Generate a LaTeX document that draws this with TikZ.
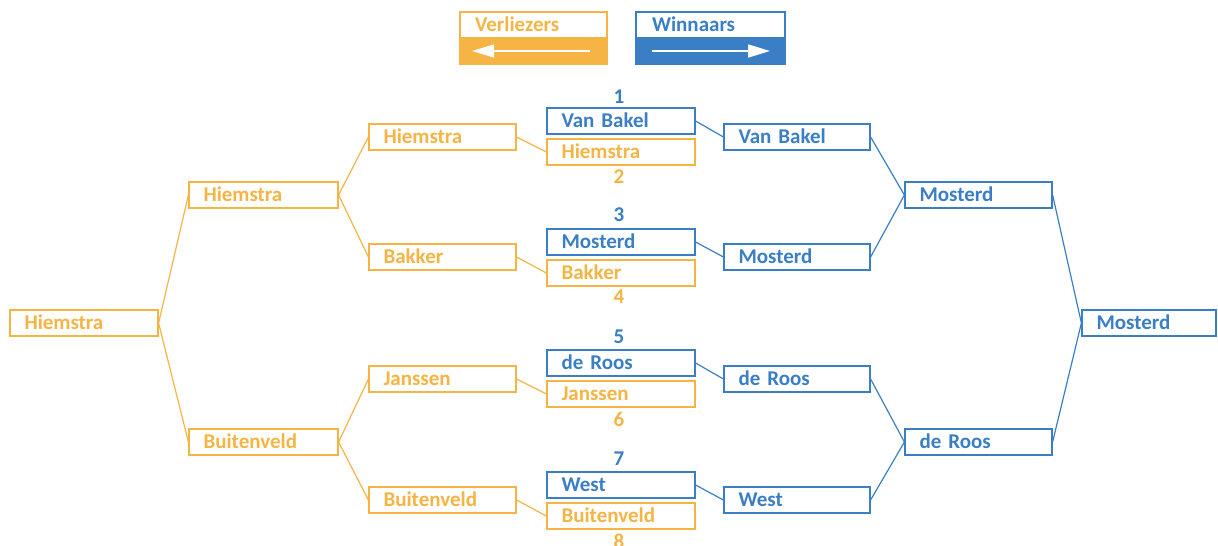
\documentclass[tikz,border=0pt]{standalone}
\usepackage{fontspec}
\setmainfont{Carlito}
\usetikzlibrary{arrows.meta}
\definecolor{vorange}{HTML}{F5B443}
\definecolor{wblue}{HTML}{3A7FC5}
\tikzset{
  box/.style={draw, line width=1.2pt, fill=white, minimum height=26pt, inner xsep=0pt, inner ysep=0pt,
     text width=#1, align=left, font=\bfseries\fontsize{21}{22}\selectfont, text height=16pt, text depth=2.5pt},
  lbox/.style={box=#1, draw=vorange, text=vorange},
  wbox/.style={box=#1, draw=wblue, text=wblue},
  num/.style={font=\bfseries\fontsize{21}{22}\selectfont, inner sep=0pt},
  lline/.style={draw=vorange, line width=1.2pt},
  wline/.style={draw=wblue, line width=1.2pt},
}
\newcommand{\bx}[6]{% style, name, left, right, cy, text
  \node[#1=#4-#3-29pt, minimum width=#4-#3] (#2) at ({(#3+#4)/2}, #5) {\hspace*{0pt}#6};}
\begin{document}
\begin{tikzpicture}[x=1pt,y=-1pt]
\useasboundingbox (0,0) rectangle (1218,546);
\clip (0,0) rectangle (1218,546);
% legend
\fill[vorange] (460,38) rectangle (607,64);
\node[draw=vorange, line width=1.2pt, minimum width=147pt, minimum height=26pt, inner sep=0pt, text width=117pt, align=left, text=vorange, font=\bfseries\fontsize{21}{22}\selectfont, text height=16pt, text depth=2.5pt] (legL) at (533.5,25) {Verliezers};
\draw[vorange, line width=1.2pt] (460,38) rectangle (607,64);
\coordinate (la) at (590,51);
\coordinate (lb) at (472,51);
\draw[white, line width=1.6pt, -{Triangle[length=22pt,width=13pt]}] (la) -- (lb);
\fill[wblue] (636,38) rectangle (785,64);
\node[draw=wblue, line width=1.2pt, minimum width=149pt, minimum height=26pt, inner sep=0pt, text width=117pt, align=left, text=wblue, font=\bfseries\fontsize{21}{22}\selectfont, text height=16pt, text depth=2.5pt] (legW) at (710.5,25) {Winnaars};
\draw[wblue, line width=1.2pt] (636,38) rectangle (785,64);
\coordinate (wa) at (652,51);
\coordinate (wb) at (770,51);
\draw[white, line width=1.6pt, -{Triangle[length=22pt,width=13pt]}] (wa) -- (wb);
% centre pairs
\bx{wbox}{c1}{547}{695}{121}{Van Bakel}
\bx{lbox}{c2}{547}{695}{152}{Hiemstra}
\bx{wbox}{c3}{547}{695}{242}{Mosterd}
\bx{lbox}{c4}{547}{695}{273}{Bakker}
\bx{wbox}{c5}{547}{695}{363}{de Roos}
\bx{lbox}{c6}{547}{695}{394}{Janssen}
\bx{wbox}{c7}{547}{695}{485}{West}
\bx{lbox}{c8}{547}{695}{516}{Buitenveld}
\node[num, text=wblue] (n1) at (619,97) {1};
\node[num, text=vorange] (n2) at (619,177) {2};
\node[num, text=wblue] (n3) at (619,215) {3};
\node[num, text=vorange] (n4) at (619,297) {4};
\node[num, text=wblue] (n5) at (619,337) {5};
\node[num, text=vorange] (n6) at (619,419) {6};
\node[num, text=wblue] (n7) at (619,459) {7};
\node[num, text=vorange] (n8) at (619,541) {8};
% left round 1
\bx{lbox}{l1}{369}{516}{137}{Hiemstra}
\bx{lbox}{l2}{369}{516}{257}{Bakker}
\bx{lbox}{l3}{369}{516}{379}{Janssen}
\bx{lbox}{l4}{369}{516}{500}{Buitenveld}
% right round 1
\bx{wbox}{r1}{724}{870}{137}{Van Bakel}
\bx{wbox}{r2}{724}{870}{257}{Mosterd}
\bx{wbox}{r3}{724}{870}{379}{de Roos}
\bx{wbox}{r4}{724}{870}{500}{West}
% round 2
\bx{lbox}{ls1}{189}{338}{195}{Hiemstra}
\bx{lbox}{ls2}{189}{338}{442}{Buitenveld}
\bx{wbox}{rs1}{905}{1052}{195}{Mosterd}
\bx{wbox}{rs2}{905}{1052}{442}{de Roos}
% finals
\bx{lbox}{lf}{10}{158}{323}{Hiemstra}
\bx{wbox}{rf}{1082}{1216}{323}{Mosterd}
% connectors
\draw[lline] (l1.east) -- (c2.west);
\draw[lline] (l2.east) -- (c4.west);
\draw[lline] (l3.east) -- (c6.west);
\draw[lline] (l4.east) -- (c8.west);
\draw[wline] (c1.east) -- (r1.west);
\draw[wline] (c3.east) -- (r2.west);
\draw[wline] (c5.east) -- (r3.west);
\draw[wline] (c7.east) -- (r4.west);
\draw[lline] (ls1.east) -- (l1.west);
\draw[lline] (ls1.east) -- (l2.west);
\draw[lline] (ls2.east) -- (l3.west);
\draw[lline] (ls2.east) -- (l4.west);
\draw[wline] (r1.east) -- (rs1.west);
\draw[wline] (r2.east) -- (rs1.west);
\draw[wline] (r3.east) -- (rs2.west);
\draw[wline] (r4.east) -- (rs2.west);
\draw[lline] (lf.east) -- (ls1.west);
\draw[lline] (lf.east) -- (ls2.west);
\draw[wline] (rs1.east) -- (rf.west);
\draw[wline] (rs2.east) -- (rf.west);
\end{tikzpicture}
\end{document}
